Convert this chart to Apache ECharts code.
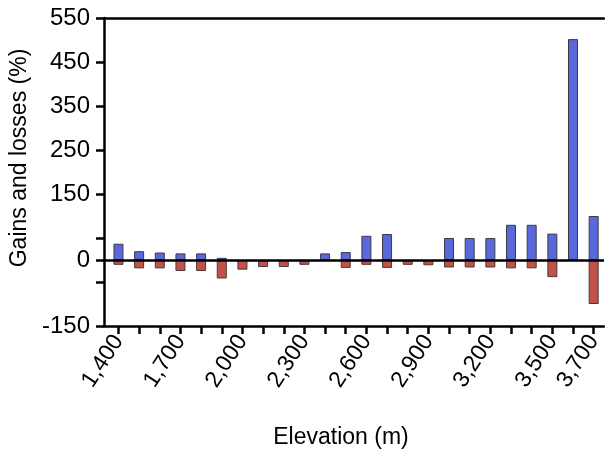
<!DOCTYPE html>
<html>
<head>
<meta charset="utf-8">
<script src="https://cdn.jsdelivr.net/npm/echarts@6/dist/echarts.min.js"></script>
<style>
  html, body { margin: 0; padding: 0; background: #fff; }
  #chart { width: 605px; height: 454px; }
</style>
</head>
<body>
<div id="chart"></div>
<script>
// elevation classes (m)
const elevations = [1400, 1500, 1600, 1700, 1800, 1900, 2000, 2100, 2200, 2300, 2400, 2500,
                    2600, 2700, 2800, 2900, 3000, 3100, 3200, 3300, 3400, 3500, 3600, 3700];
// gains (%), null = no bar
const gains = [37, 20, 17, 15, 15, 5, null, null, null, null, 15, 18,
               55, 59, null, null, 50, 50, 50, 80, 80, 60, 502, 100];
// losses (%)
const losses = [-11, -19, -19, -25, -25, -42, -22, -16, -16, -11, null, -18,
                -11, -18, -11, -12, -17, -17, -17, -19, -19, -39, null, -100];
const xLabels = [1400, 1700, 2000, 2300, 2600, 2900, 3200, 3500, 3700];
const yLabels = [-150, 0, 150, 250, 350, 450, 550];
const yTicks = [-150, -50, 0, 50, 150, 250, 350, 450, 550];

const font = 'Liberation Sans, Arial, sans-serif';
const chart = echarts.init(document.getElementById('chart'));

const toPairs = arr => elevations.map((e, i) => [e, arr[i] == null ? '-' : arr[i]]);

const option = {
  animation: false,
  grid: { left: 104, right: 1, top: 18, bottom: 127 },
  xAxis: [{
    type: 'value',
    min: 1330,
    max: 3750,
    position: 'bottom',
    name: 'Elevation (m)',
    nameLocation: 'middle',
    nameGap: 100,
    nameTextStyle: { fontFamily: font, fontSize: 23, color: '#000', padding: [0, 26, 0, 0] },
    axisLine: { onZero: false, lineStyle: { color: '#000', width: 2.5 } },
    axisTick: { show: true, length: 8, lineStyle: { color: '#000', width: 2.5 }, customValues: elevations },
    axisLabel: {
      customValues: xLabels,
      rotate: 57,
      margin: 11,
      fontFamily: font,
      fontSize: 23,
      color: '#000',
      formatter: v => v.toLocaleString('en-US')
    },
    splitLine: { show: false }
  }, {
    type: 'value',
    min: 1330,
    max: 3750,
    position: 'top',
    axisLine: { show: true, onZero: false, lineStyle: { color: '#000', width: 2.5 } },
    axisTick: { show: false },
    axisLabel: { show: false },
    splitLine: { show: false }
  }],
  yAxis: {
    type: 'value',
    min: -150,
    max: 550,
    name: 'Gains and losses (%)',
    nameLocation: 'middle',
    nameRotate: 90,
    nameGap: 72,
    nameTextStyle: { fontFamily: font, fontSize: 23, color: '#000', padding: [0, 0, 0, 28] },
    axisLine: { show: true, lineStyle: { color: '#000', width: 2.5 } },
    axisTick: { show: true, length: 8, lineStyle: { color: '#000', width: 2.5 }, customValues: yTicks },
    axisLabel: { customValues: yLabels, margin: 14, fontFamily: font, fontSize: 24, color: '#000' },
    splitLine: { show: false }
  },
  series: [{
    name: 'Gains',
    type: 'bar',
    xAxisIndex: 0,
    barWidth: 10,
    barGap: '-100%',
    itemStyle: { color: '#5b68d9', borderColor: '#3a3a4a', borderWidth: 1 },
    data: toPairs(gains),
    markLine: {
      silent: true,
      symbol: 'none',
      label: { show: false },
      lineStyle: { color: '#000', width: 2.5, type: 'solid' },
      data: [{ yAxis: 0 }]
    }
  }, {
    name: 'Losses',
    type: 'bar',
    xAxisIndex: 0,
    barWidth: 10,
    barGap: '-100%',
    itemStyle: { color: '#c0524a', borderColor: '#4a3a3a', borderWidth: 1 },
    data: toPairs(losses)
  }]
};

chart.setOption(option);
</script>
</body>
</html>
